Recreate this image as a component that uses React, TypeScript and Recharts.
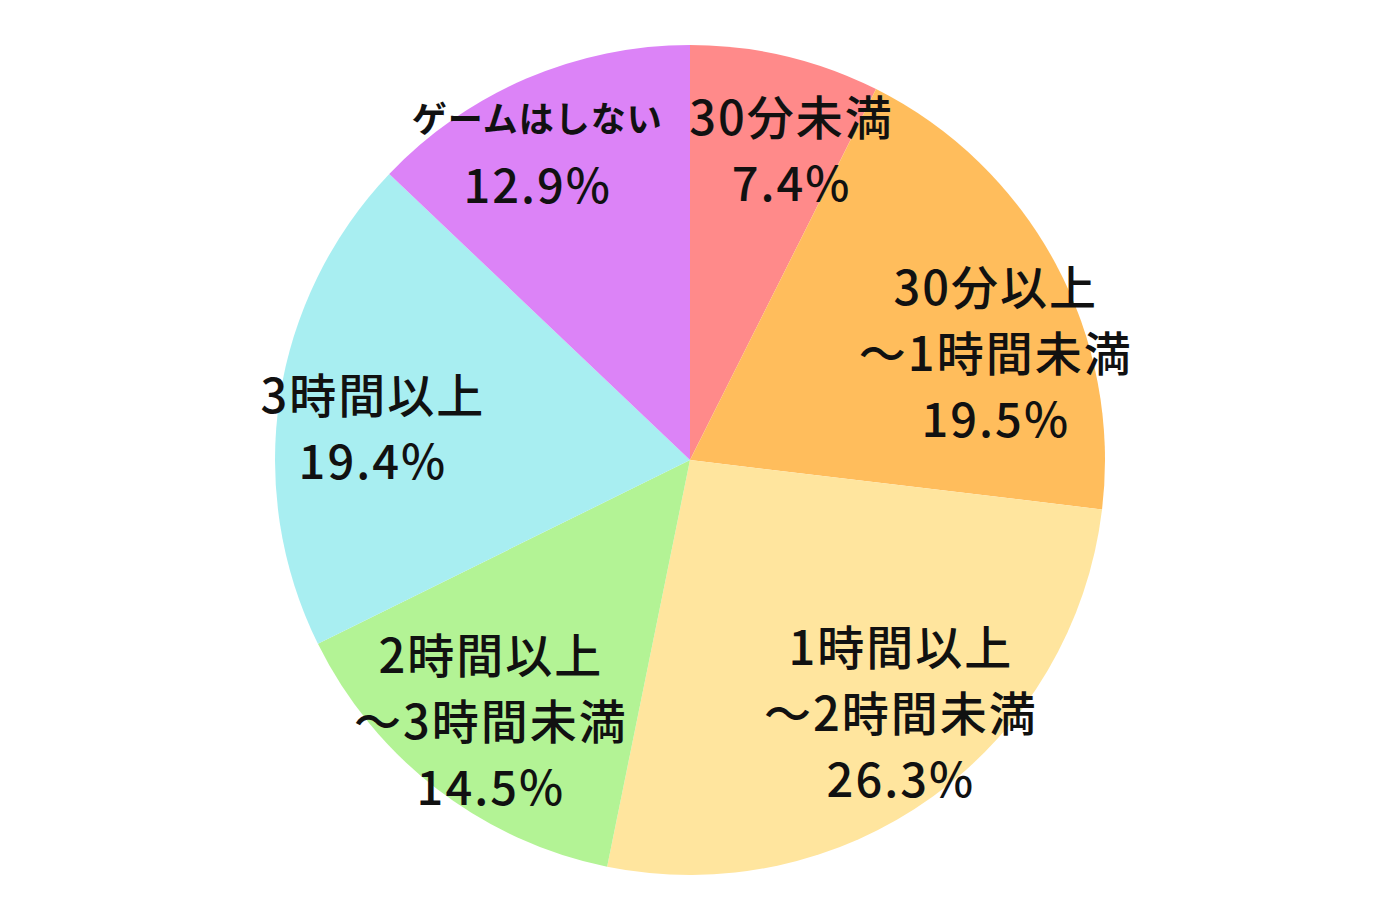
import { PieChart, Pie, Cell } from "recharts";

// 選択肢（ラベルは改行ごとに分割）
const categories = [
  ["30分未満"],
  ["30分以上", "～1時間未満"],
  ["1時間以上", "～2時間未満"],
  ["2時間以上", "～3時間未満"],
  ["3時間以上"],
  ["ゲームはしない"],
];

const shares = [7.4, 19.5, 26.3, 14.5, 19.4, 12.9];

const COLORS = ["#FF8A8A", "#FFBD5C", "#FFE59E", "#B3F395", "#A8EEF1", "#DC83F7"];

// small hand tweaks so the labels sit where the original put them
const LABEL_NUDGE = [
  [25, 7],
  [16, 46],
  [18, -15],
  [0, -1],
  [6, 15],
  [-24, -9],
];

const data = categories.map((lines, i) => ({
  name: lines.join(""),
  lines,
  value: shares[i],
}));

const RADIAN = Math.PI / 180;
const LINE_H = 66;

const renderLabel = (props: any) => {
  const { cx, cy, midAngle, outerRadius, value, index } = props;
  const r = outerRadius * 0.79;
  const [dx, dy] = LABEL_NUDGE[index] ?? [0, 0];
  const x = cx + r * Math.cos(-midAngle * RADIAN) + dx;
  const y = cy + r * Math.sin(-midAngle * RADIAN) + dy;
  const lines: string[] = [...categories[index], `${value.toFixed(1)}%`];
  const n = lines.length;
  return (
    <g>
      {lines.map((line, i) => {
        const small = line.length > 6;
        return (
          <text
            key={i}
            x={x + (small ? 0.5 : 1)}
            y={y + (i - (n - 1) / 2) * LINE_H}
            textAnchor="middle"
            dominantBaseline="central"
            fill="#111"
            fontSize={small ? 35 : 47}
            fontWeight={small ? 700 : 500}
            letterSpacing={small ? 1 : 2}
          >
            {line}
          </text>
        );
      })}
    </g>
  );
};

export default function App() {
  return (
    <div
      style={{
        position: "absolute",
        left: 0,
        top: 0,
        width: 1380,
        height: 920,
        background: "#fff",
        fontFamily: "'Noto Sans CJK JP', 'Noto Sans', sans-serif",
      }}
    >
      <PieChart width={1380} height={920} margin={{ top: 0, right: 0, bottom: 0, left: 0 }}>
        <Pie
          data={data}
          dataKey="value"
          nameKey="name"
          cx={690}
          cy={460}
          outerRadius={415}
          startAngle={90}
          endAngle={-270}
          stroke="none"
          label={renderLabel}
          labelLine={false}
          isAnimationActive={false}
        >
          {data.map((entry, index) => (
            <Cell key={`cell-${index}`} fill={COLORS[index % COLORS.length]} />
          ))}
        </Pie>
      </PieChart>
    </div>
  );
}
